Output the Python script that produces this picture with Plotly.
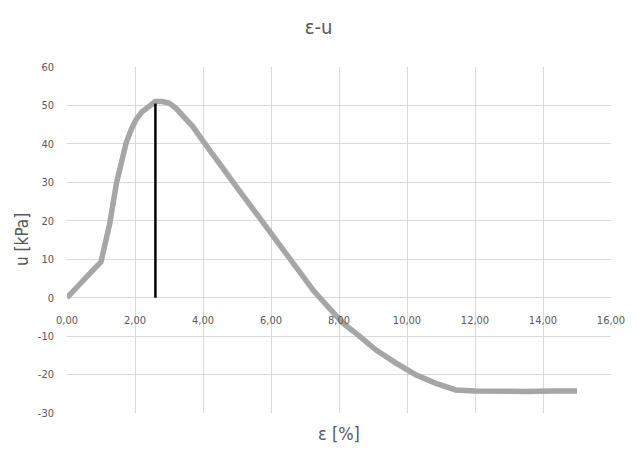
import plotly.graph_objects as go

# Data
eps = [0, 0.2, 0.4, 0.6, 0.8, 1.0, 1.1, 1.25, 1.46, 1.6, 1.74, 1.9, 2.03, 2.2, 2.37, 2.5, 2.6,
       2.8, 3.0, 3.2, 3.38, 3.7, 3.97, 4.45, 5.03, 5.61, 6.1, 6.68, 7.26, 7.74, 8.1, 8.52,
       9.1, 9.69, 10.27, 10.85, 11.43, 12.0, 12.6, 13.5, 14.3, 15.0]
u = [0, 2, 4, 5.8, 7.5, 9.3, 13, 19, 30, 36, 40.3, 44, 46.3, 48.3, 49.6, 50.5, 51,
     51, 50.6, 49.3, 47.6, 44.5, 41.1, 35.1, 28.3, 21.4, 15.4, 8.6, 1.7, -3.0, -6.5, -9.4,
     -13.7, -17.1, -20.1, -22.3, -24.0, -24.3, -24.4, -24.4, -24.3, -24.3]

peak_eps = [2.6, 2.6]
peak_u = [0, 50.5]

x_ticks = [0, 2, 4, 6, 8, 10, 12, 14, 16]
y_ticks = [-30, -20, -10, 0, 10, 20, 30, 40, 50, 60]
y_ticklabels = ["-30", "-20", "-10", "0", "10", "20", "30", "40", "50", "60"]

FONT = "DejaVu Sans Condensed, Roboto, sans-serif"
TXT = "#595959"
GRID = "#d9d9d9"

fig = go.Figure()
fig.add_trace(go.Scatter(x=eps, y=u, mode="lines",
                         line=dict(color="#a6a6a6", width=5.5), showlegend=False))
fig.add_trace(go.Scatter(x=peak_eps, y=peak_u, mode="lines",
                         line=dict(color="#000000", width=2.5), showlegend=False))

fig.update_layout(
    width=637, height=456,
    margin=dict(l=67, r=20, t=67, b=43),
    paper_bgcolor="white", plot_bgcolor="white",
    separators=",.",
    font=dict(family=FONT, color=TXT, size=11),
    title=dict(text="ε-u", x=0.5, xanchor="center", y=1 - 27 / 456, yanchor="middle",
               font=dict(family=FONT, size=20, color=TXT)),
    xaxis=dict(range=[0, 16], tickvals=x_ticks, tickformat=".2f",
               showgrid=True, gridcolor=GRID, gridwidth=1,
               zeroline=False, showline=False, ticks="",
               anchor="free", position=30 / 90, ticklabelstandoff=14,
               tickfont=dict(family=FONT, size=11, color=TXT)),
    yaxis=dict(range=[-30, 60], tickvals=y_ticks, ticktext=y_ticklabels,
               showgrid=True, gridcolor=GRID, gridwidth=1,
               zeroline=False, showline=False, ticks="",
               ticklabelstandoff=12,
               tickfont=dict(family=FONT, size=11, color=TXT)),
    annotations=[
        dict(text="ε [%]", xref="paper", yref="paper", x=0.5, y=0,
             xanchor="center", yanchor="middle", yshift=-20, showarrow=False,
             font=dict(family=FONT, size=18, color=TXT)),
        dict(text="u [kPa]", xref="paper", yref="paper", x=0, y=0.5,
             xanchor="center", yanchor="middle", xshift=-45, textangle=-90,
             showarrow=False, font=dict(family=FONT, size=17, color=TXT)),
    ],
)

fig.write_html("out.html")
